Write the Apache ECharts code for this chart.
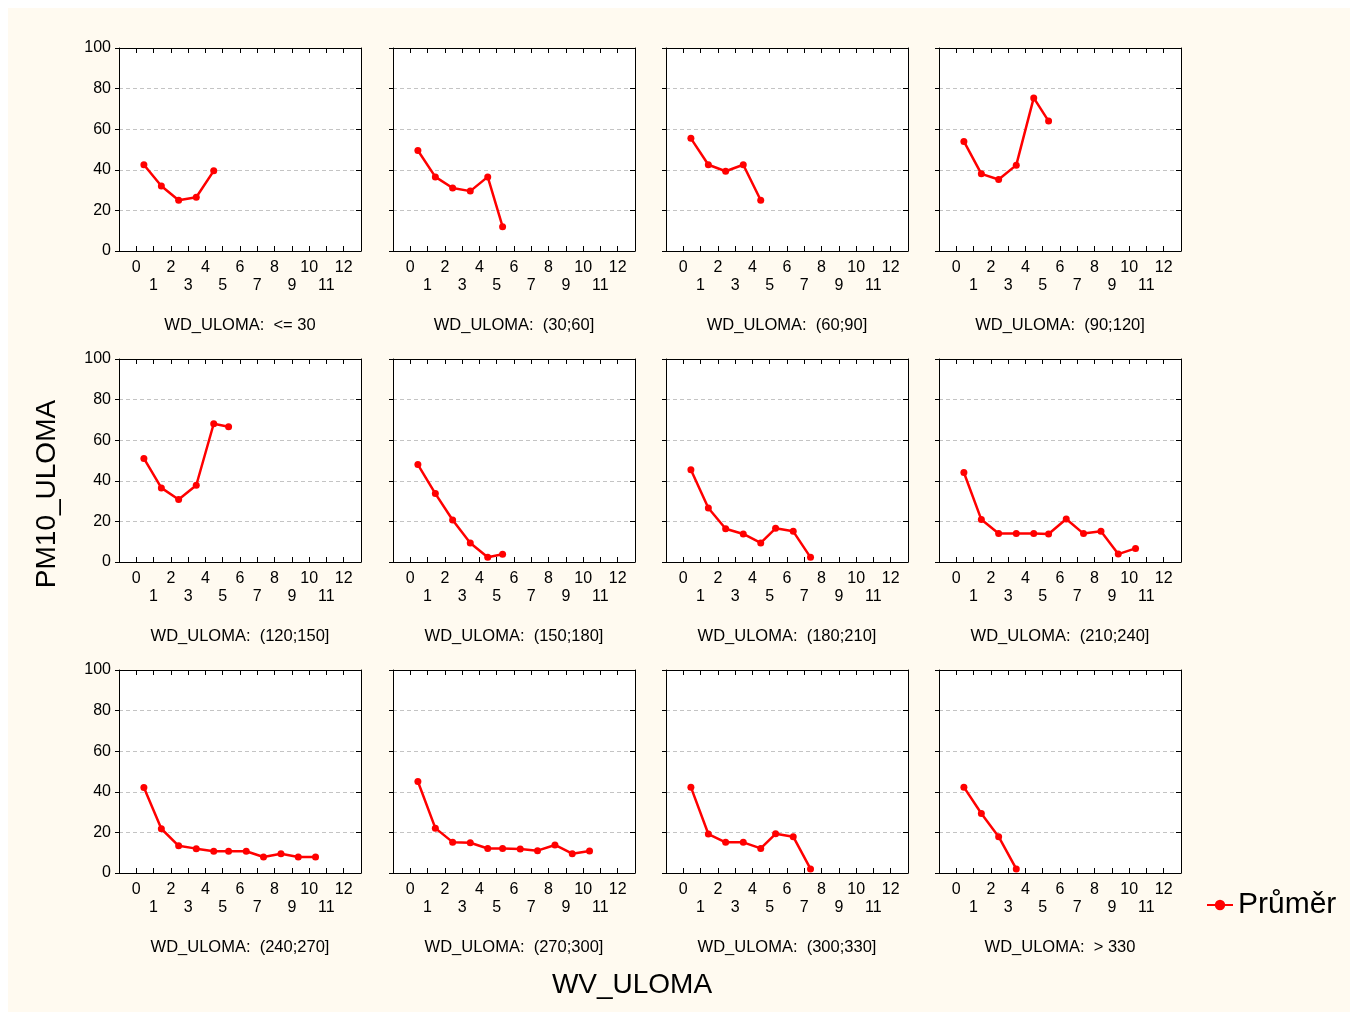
<!DOCTYPE html>
<html><head><meta charset="utf-8">
<script src="https://cdn.jsdelivr.net/npm/echarts@6/dist/echarts.min.js"></script>
<style>html,body{margin:0;padding:0;background:#fff}#c{width:1358px;height:1019px}</style>
</head><body><div id="c"></div>
<script>
// WV_ULOMA bin positions (x)
const WV = [0.44, 1.45, 2.45, 3.47, 4.48, 5.34, 6.36, 7.36, 8.37, 9.37, 10.37];
const titles = ['WD_ULOMA:  <= 30', 'WD_ULOMA:  (30;60]', 'WD_ULOMA:  (60;90]', 'WD_ULOMA:  (90;120]',
  'WD_ULOMA:  (120;150]', 'WD_ULOMA:  (150;180]', 'WD_ULOMA:  (180;210]', 'WD_ULOMA:  (210;240]',
  'WD_ULOMA:  (240;270]', 'WD_ULOMA:  (270;300]', 'WD_ULOMA:  (300;330]', 'WD_ULOMA:  > 330'];
const p1 = [42.5, 32, 25, 26.5, 39.5];
const p2 = [49.5, 36.5, 31, 29.5, 36.5, 12];
const p3 = [55.5, 42.5, 39.3, 42.5, 25];
const p4 = [54, 38, 35.2, 42.3, 75.4, 64];
const p5 = [51, 36.5, 30.8, 37.8, 68.1, 66.6];
const p6 = [48, 33.7, 20.7, 9.4, 2.3, 3.8];
const p7 = [45.4, 26.6, 16.4, 13.8, 9.4, 16.6, 15.1, 2.3];
const p8 = [44.1, 20.9, 14, 14, 14, 13.8, 21.2, 14, 15.1, 3.9, 6.7];
const p9 = [42.1, 21.8, 13.4, 12, 10.7, 10.7, 10.7, 7.9, 9.5, 7.9, 7.9];
const p10 = [45.1, 22.1, 15.2, 14.9, 12.1, 12.1, 11.8, 11, 13.8, 9.5, 10.8];
const p11 = [42.3, 19.2, 15.1, 15.1, 12.1, 19.3, 17.9, 2];
const p12 = [42.3, 29.3, 17.9, 2];
const panels = [p1, p2, p3, p4, p5, p6, p7, p8, p9, p10, p11, p12];
const xMin = -1, xMax = 13, yTicks = [0, 20, 40, 60, 80, 100];
const seriesName = 'Průměr';
const xTitle = 'WV_ULOMA', yTitle = 'PM10_ULOMA';

const FONT = 'Liberation Sans, Arial, sans-serif';
const colLeft = [119, 393, 666, 939], rowTop = [48, 359, 670];
const W = 242, H = 203;
const grid = [], xAxis = [], yAxis = [], series = [], graphic = [];
graphic.push({type:'rect', shape:{x:8,y:8,width:1342,height:1004}, style:{fill:'#fffaf0'}, z:-10, silent:true});
for (let i = 0; i < 12; i++) {
  const r = Math.floor(i / 4), c = i % 4;
  grid.push({left: colLeft[c], top: rowTop[r], width: W, height: H, show: true, backgroundColor: '#fff', borderWidth: 0});
  graphic.push({type:'text', x: colLeft[c] + W/2, y: rowTop[r] + H + 74,
    style:{text: titles[i], font: '16.5px ' + FONT, fill:'#000', align:'center', verticalAlign:'middle'}});
}
const lineAx = {show: true, onZero: false, lineStyle: {color: '#000', width: 1}};
for (let i = 0; i < 12; i++) {
  xAxis.push({gridIndex: i, type: 'value', min: xMin, max: xMax, interval: 1, position: 'bottom',
    axisLine: lineAx, axisTick: {inside: true, length: 5, lineStyle:{color:'#000'}}, splitLine: {show: false},
    axisLabel: {margin: 8, fontSize: 16, lineHeight: 18, color: '#000', fontFamily: FONT,
      formatter: v => (v < 0 || v > 12) ? '' : (v % 2 === 0 ? String(v) : '\n' + v)}});
}
for (let i = 0; i < 12; i++) {
  xAxis.push({gridIndex: i, type: 'value', min: xMin, max: xMax, interval: 1, position: 'top',
    axisLine: lineAx, axisTick: {inside: true, length: 5, lineStyle:{color:'#000'}}, splitLine: {show: false},
    axisLabel: {show: false}});
}
for (let i = 0; i < 12; i++) {
  yAxis.push({gridIndex: i, type: 'value', min: yTicks[0], max: yTicks[yTicks.length-1], interval: 20, position: 'left',
    axisLine: lineAx, axisTick: {show: true, inside: false, length: 4, lineStyle:{color:'#000'}},
    splitLine: {show: true, lineStyle: {type: [4, 3], color: '#c4c4c4', width: 1}},
    axisLabel: {show: i % 4 === 0, margin: 8, fontSize: 16, color: '#000', fontFamily: FONT}});
}
for (let i = 0; i < 12; i++) {
  yAxis.push({gridIndex: i, type: 'value', min: 0, max: 100, interval: 20, position: 'right',
    axisLine: lineAx, axisTick: {inside: true, length: 5, lineStyle:{color:'#000'}}, splitLine: {show: false},
    axisLabel: {show: false}});
}
for (let i = 0; i < 12; i++) {
  series.push({type: 'line', name: seriesName, xAxisIndex: i, yAxisIndex: i,
    data: panels[i].map((v, k) => [WV[k], v]),
    symbol: 'circle', symbolSize: 7, showSymbol: true,
    lineStyle: {color: '#ff0000', width: 2.5}, itemStyle: {color: '#ff0000'}, z: 5});
}
graphic.push({type:'text', x: 632, y: 985, style:{text: xTitle, font: '28px ' + FONT, fill:'#000', align:'center', verticalAlign:'middle'}});
graphic.push({type:'text', x: 47, y: 494, rotation: Math.PI/2, style:{text: yTitle, font: '28px ' + FONT, fill:'#000', align:'center', verticalAlign:'middle'}});

const chart = echarts.init(document.getElementById('c'), null, {renderer: 'canvas'});
chart.setOption({
  animation: false, backgroundColor: '#fff',
  grid, xAxis, yAxis, series, graphic,
  legend: {data: [seriesName], left: 1201, top: 885, itemWidth: 26, itemHeight: 13, itemGap: 8,
    textStyle: {fontSize: 30, color: '#000', fontFamily: FONT}, selectedMode: false}
});
</script></body></html>
